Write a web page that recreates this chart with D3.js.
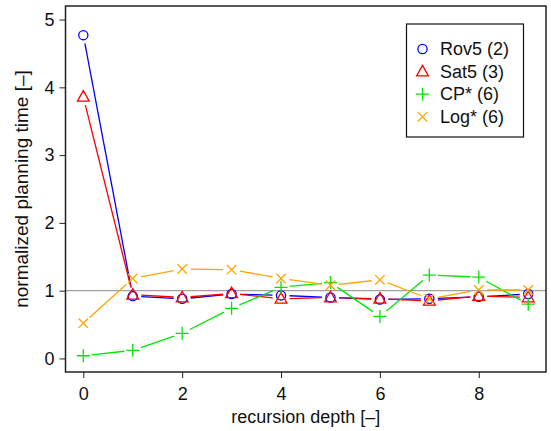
<html>
<head>
<meta charset="utf-8" />
<script src="https://d3js.org/d3.v7.min.js"></script>
<style>
  body { margin: 0; background: #fff; }
  svg { font-family: "Liberation Sans", Arial, sans-serif; }
</style>
</head>
<body>
<svg width="551" height="431"></svg>
<script>
const depth = [0, 1, 2, 3, 4, 5, 6, 7, 8, 9]
const rov5 = [4.77, 0.92, 0.88, 0.95, 0.93, 0.90, 0.87, 0.88, 0.91, 0.95]
const sat5 = [3.86, 0.94, 0.90, 0.96, 0.88, 0.90, 0.88, 0.85, 0.92, 0.90]
const cp = [0.04, 0.12, 0.37, 0.74, 1.05, 1.12, 0.62, 1.23, 1.20, 0.80]
const logs = [0.52, 1.18, 1.32, 1.31, 1.18, 1.08, 1.16, 0.88, 1.01, 1.01]
const xTicks = [0, 2, 4, 6, 8]
const yTicks = [0, 1, 2, 3, 4, 5]

const series = [
  { name: "Rov5 (2)", values: rov5, color: "#0000ff", shape: "circle" },
  { name: "Sat5 (3)", values: sat5, color: "#ff0000", shape: "triangle" },
  { name: "CP* (6)", values: cp, color: "#00e600", shape: "plus" },
  { name: "Log* (6)", values: logs, color: "#ffa500", shape: "cross" }
]

const svg = d3.select("svg")
const pLeft = 65.5, pRight = 546, pTop = 6, pBottom = 372

const x = d3.scaleLinear().domain([-0.36, 9.36]).range([pLeft, pRight])
const y = d3.scaleLinear().domain([-0.2, 5.2]).range([pBottom, pTop])

// reference line
svg.append("line")
  .attr("x1", pLeft).attr("x2", pRight)
  .attr("y1", y(1)).attr("y2", y(1))
  .style("stroke", "#a0a0a0").style("stroke-width", 1.3)

function marker(g, shape, color, cx, cy) {
  if (shape === "circle") {
    g.append("circle").attr("cx", cx).attr("cy", cy).attr("r", 4.6)
      .style("fill", "none").style("stroke", color).style("stroke-width", 1.3)
  } else if (shape === "triangle") {
    const s = 6.2
    g.append("path")
      .attr("d", `M${cx},${cy - s} L${cx + s * 0.95},${cy + s * 0.7} L${cx - s * 0.95},${cy + s * 0.7} Z`)
      .style("fill", "none").style("stroke", color).style("stroke-width", 1.3)
  } else if (shape === "plus") {
    const s = 6.5
    g.append("path")
      .attr("d", `M${cx - s},${cy} H${cx + s} M${cx},${cy - s} V${cy + s}`)
      .style("stroke", color).style("stroke-width", 1.3)
  } else {
    const s = 4.7
    g.append("path")
      .attr("d", `M${cx - s},${cy - s} L${cx + s},${cy + s} M${cx - s},${cy + s} L${cx + s},${cy - s}`)
      .style("stroke", color).style("stroke-width", 1.3)
  }
}

const gap = 8.5
series.forEach(s => {
  const g = svg.append("g")
  const pts = s.values.map((v, i) => [x(depth[i]), y(v)])
  for (let i = 0; i < pts.length - 1; i++) {
    const [x0, y0] = pts[i], [x1, y1] = pts[i + 1]
    const len = Math.hypot(x1 - x0, y1 - y0)
    if (len <= 2 * gap) continue
    const ux = (x1 - x0) / len, uy = (y1 - y0) / len
    g.append("line")
      .attr("x1", x0 + ux * gap).attr("y1", y0 + uy * gap)
      .attr("x2", x1 - ux * gap).attr("y2", y1 - uy * gap)
      .style("stroke", s.color).style("stroke-width", 1.3)
  }
  pts.forEach(p => marker(g, s.shape, s.color, p[0], p[1]))
})

// box
svg.append("rect")
  .attr("x", pLeft).attr("y", pTop)
  .attr("width", pRight - pLeft).attr("height", pBottom - pTop)
  .style("fill", "none").style("stroke", "#222").style("stroke-width", 1.5)

// axes
const xAxis = svg.append("g").attr("transform", `translate(0,${pBottom})`)
  .call(d3.axisBottom(x).tickValues(xTicks).tickSize(6).tickPadding(9))
xAxis.select(".domain").remove()
const yAxis = svg.append("g").attr("transform", `translate(${pLeft},0)`)
  .call(d3.axisLeft(y).tickValues(yTicks).tickFormat(d3.format("d")).tickSize(6).tickPadding(5))
yAxis.select(".domain").remove()
svg.selectAll(".tick text").style("font-size", "18px").style("fill", "#111")
  .style("font-family", "'Liberation Sans', Arial, sans-serif")
svg.selectAll(".tick line").style("stroke", "#222")

svg.append("text")
  .attr("x", (pLeft + pRight) / 2).attr("y", 423)
  .attr("text-anchor", "middle")
  .style("font-size", "18px").style("fill", "#111")
  .text("recursion depth [–]")

svg.append("text")
  .attr("transform", `translate(27.5,${(pTop + pBottom) / 2}) rotate(-90)`)
  .attr("text-anchor", "middle")
  .style("font-size", "19px").style("fill", "#111")
  .text("normalized planning time [–]")

// legend
const lg = svg.append("g")
lg.append("rect")
  .attr("x", 406.5).attr("y", 24).attr("width", 117).attr("height", 113)
  .style("fill", "#fff").style("stroke", "#111").style("stroke-width", 1.2)
series.forEach((s, i) => {
  const ly = 49 + i * 22.6
  marker(lg, s.shape, s.color, 422.5, ly)
  lg.append("text")
    .attr("x", 440).attr("y", ly + 6)
    .style("font-size", "18px").style("fill", "#111")
    .text(s.name)
})
</script>
</body>
</html>
